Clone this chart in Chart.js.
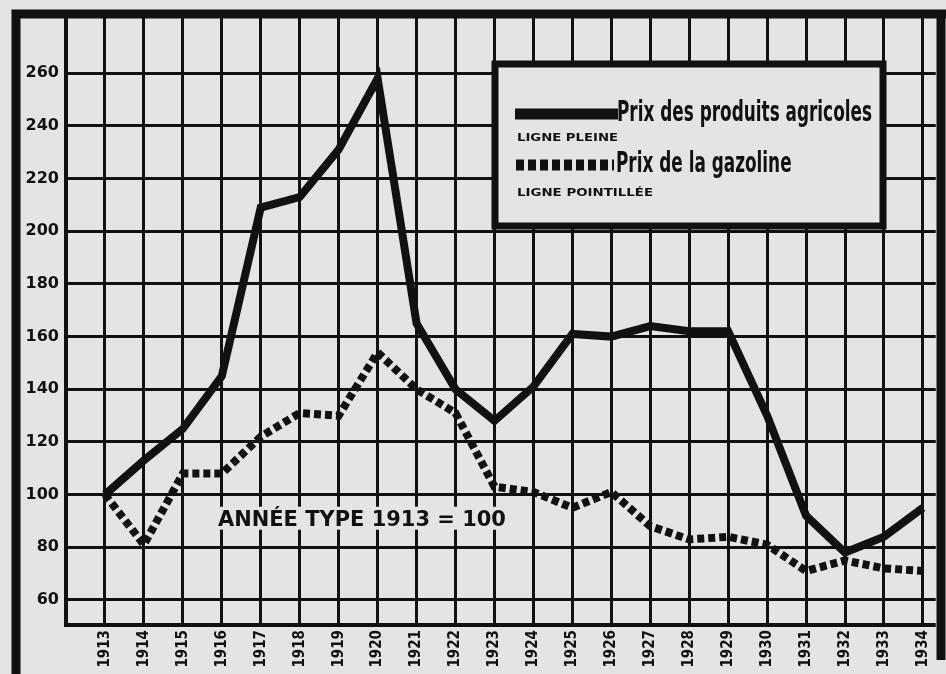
<!DOCTYPE html>
<html lang="fr">
<head>
    <meta charset="UTF-8">
    <title>Prix des produits agricoles et de la gazoline</title>
    <script src="https://cdn.jsdelivr.net/npm/chart.js"></script>
    <style>
        html, body {
            margin: 0;
            padding: 0;
            background-color: #e4e4e4;
        }
        #wrap {
            width: 946px;
            height: 674px;
        }
    </style>
</head>
<body>
    <div id="wrap">
        <canvas id="prixChart" width="946" height="674"></canvas>
    </div>

    <script>
        // Données (année type 1913 = 100)
        const annees = [1913, 1914, 1915, 1916, 1917, 1918, 1919, 1920, 1921, 1922, 1923,
                        1924, 1925, 1926, 1927, 1928, 1929, 1930, 1931, 1932, 1933, 1934];
        const produitsAgricoles = [100, 113, 125, 145, 209, 213, 231, 258, 165, 140, 128,
                                   141, 161, 160, 164, 162, 162, 130, 92, 78, 84, 95];
        const gazoline = [100, 81, 108, 108, 122, 131, 130, 154, 140, 131, 103,
                          101, 95, 101, 88, 83, 84, 81, 71, 75, 72, 71];
        const graduationsY = [60, 80, 100, 120, 140, 160, 180, 200, 220, 240, 260];
        const graduationsX = [1912].concat(annees);

        const fond = '#e4e4e4';
        const encre = '#111111';

        // Cadre, légende et annotation dessinés à la main
        const decor = {
            id: 'decor',
            beforeDraw(chart) {
                const ctx = chart.ctx;
                ctx.save();
                ctx.fillStyle = fond;
                ctx.fillRect(0, 0, chart.width, chart.height);
                ctx.restore();
            },
            afterDatasetsDraw(chart) {
                const ctx = chart.ctx;
                const area = chart.chartArea;
                const x = chart.scales.x;
                const y = chart.scales.y;
                ctx.save();

                // cadre extérieur
                ctx.strokeStyle = encre;
                ctx.lineWidth = 9;
                ctx.beginPath();
                ctx.moveTo(16, 674);
                ctx.lineTo(16, 14);
                ctx.lineTo(946, 14);
                ctx.stroke();
                ctx.beginPath();
                ctx.moveTo(941, 14);
                ctx.lineTo(941, 660);
                ctx.stroke();

                // bord gauche et bas du graphique
                ctx.lineWidth = 4;
                ctx.beginPath();
                ctx.moveTo(area.left, area.top);
                ctx.lineTo(area.left, area.bottom);
                ctx.lineTo(area.right, area.bottom);
                ctx.stroke();

                // annotation, sous la ligne 100
                const texte = 'ANNÉE TYPE 1913 = 100';
                ctx.font = 'bold 21px "DejaVu Sans"';
                const w = ctx.measureText(texte).width;
                const cible = 288;
                const tx = x.getPixelForValue(1915.9);
                const ty = y.getPixelForValue(88.2);
                ctx.fillStyle = fond;
                ctx.fillRect(tx - 5, ty - 19, cible + 10, 23);
                ctx.fillStyle = encre;
                ctx.translate(tx, ty);
                ctx.scale(cible / w, 1);
                ctx.textBaseline = 'alphabetic';
                ctx.fillText(texte, 0, 0);
                ctx.restore();

                // légende
                ctx.save();
                const bx = 495, by = 64, bw = 388, bh = 162;
                ctx.fillStyle = fond;
                ctx.fillRect(bx, by, bw, bh);
                ctx.strokeStyle = encre;
                ctx.lineWidth = 7;
                ctx.strokeRect(bx, by, bw, bh);

                ctx.lineWidth = 11;
                ctx.lineCap = 'butt';
                ctx.beginPath();
                ctx.moveTo(515, 114);
                ctx.lineTo(618, 114);
                ctx.stroke();

                ctx.setLineDash([8, 4]);
                ctx.beginPath();
                ctx.moveTo(516, 165);
                ctx.lineTo(614, 165);
                ctx.stroke();
                ctx.setLineDash([]);

                ctx.fillStyle = encre;
                ctx.textBaseline = 'alphabetic';
                ctx.font = 'bold 29px "DejaVu Sans Condensed"';
                const l1 = 'Prix des produits agricoles';
                const k = 255 / ctx.measureText(l1).width;
                ctx.save();
                ctx.translate(617, 121);
                ctx.scale(k, 1);
                ctx.fillText(l1, 0, 0);
                ctx.restore();
                ctx.save();
                ctx.translate(616, 172);
                ctx.scale(k, 1);
                ctx.fillText('Prix de la gazoline', 0, 0);
                ctx.restore();

                ctx.font = 'bold 10px "DejaVu Sans"';
                const p1 = 'LIGNE PLEINE';
                ctx.save();
                ctx.translate(517, 141);
                ctx.scale(101 / ctx.measureText(p1).width, 1);
                ctx.fillText(p1, 0, 0);
                ctx.restore();
                const p2 = 'LIGNE POINTILLÉE';
                ctx.save();
                ctx.translate(517, 196);
                ctx.scale(136 / ctx.measureText(p2).width, 1);
                ctx.fillText(p2, 0, 0);
                ctx.restore();

                ctx.restore();
            }
        };

        const ctx = document.getElementById('prixChart').getContext('2d');

        new Chart(ctx, {
            type: 'line',
            data: {
                datasets: [
                    {
                        label: 'Prix des produits agricoles',
                        data: annees.map((a, i) => ({ x: a, y: produitsAgricoles[i] })),
                        borderColor: encre,
                        borderWidth: 8,
                        borderJoinStyle: 'miter',
                        pointRadius: 0,
                        tension: 0,
                        fill: false
                    },
                    {
                        label: 'Prix de la gazoline',
                        data: annees.map((a, i) => ({ x: a, y: gazoline[i] })),
                        borderColor: encre,
                        borderWidth: 8,
                        borderDash: [7, 4],
                        borderCapStyle: 'butt',
                        pointRadius: 0,
                        tension: 0,
                        fill: false
                    }
                ]
            },
            options: {
                responsive: false,
                animation: false,
                devicePixelRatio: 1,
                layout: {
                    padding: { top: 16, right: 6, bottom: 0, left: 0 }
                },
                plugins: {
                    legend: { display: false },
                    tooltip: { enabled: false }
                },
                scales: {
                    x: {
                        type: 'linear',
                        min: 1912,
                        max: 1934.33,
                        afterBuildTicks: (scale) => {
                            scale.ticks = graduationsX.map(v => ({ value: v }));
                        },
                        afterFit: (scale) => { scale.height = 49; },
                        grid: {
                            color: encre,
                            lineWidth: 3,
                            drawTicks: false
                        },
                        border: { display: false },
                        ticks: {
                            autoSkip: false,
                            minRotation: 90,
                            maxRotation: 90,
                            padding: 5,
                            color: encre,
                            font: { family: '"DejaVu Sans Condensed"', weight: 'bold', size: 15 },
                            callback: (v) => (v === 1912 ? '' : String(v))
                        }
                    },
                    y: {
                        min: 50.5,
                        max: 281.5,
                        afterBuildTicks: (scale) => {
                            scale.ticks = graduationsY.map(v => ({ value: v }));
                        },
                        afterFit: (scale) => { scale.width = 66; },
                        grid: {
                            color: encre,
                            lineWidth: 3,
                            drawTicks: false
                        },
                        border: { display: false },
                        ticks: {
                            padding: 7,
                            color: encre,
                            font: { family: '"DejaVu Sans"', weight: 'bold', size: 16 }
                        }
                    }
                }
            },
            plugins: [decor]
        });
    </script>
</body>
</html>
